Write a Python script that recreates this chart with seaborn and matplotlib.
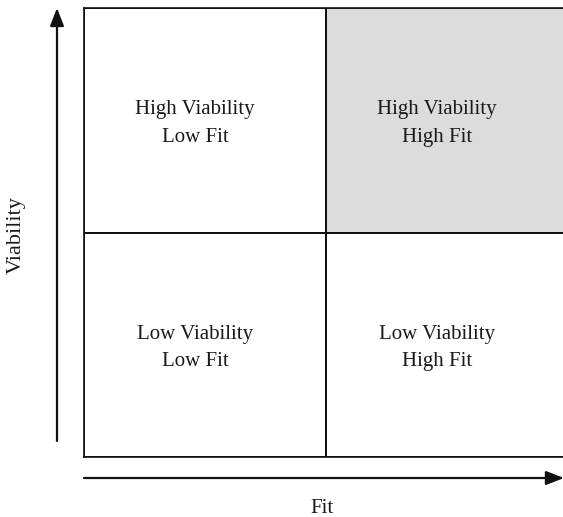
import numpy as np
import matplotlib
matplotlib.use("Agg")
import matplotlib.pyplot as plt
import seaborn as sns
from matplotlib.colors import ListedColormap

sns.set_theme(style="white")
plt.rcParams["font.family"] = ["Liberation Serif", "DejaVu Serif"]

viability_levels = ["High Viability", "Low Viability"]
fit_levels = ["Low Fit", "High Fit"]
highlight = [[0, 1],
             [0, 0]]
x_label = "Fit"
y_label = "Viability"

labels = np.array([[f"{v}\n{f}" for f in fit_levels] for v in viability_levels])

fig = plt.figure(figsize=(5.63, 5.17), dpi=100)
W, H = 563, 517
# grid runs a little past the right edge of the picture
ax = fig.add_axes([83.5 / W, 1 - 457 / H, (568 - 83.5) / W, (457 - 8) / H])

sns.heatmap(np.array(highlight), ax=ax, cmap=ListedColormap(["white", "#dcdcdc"]),
            cbar=False, annot=labels, fmt="", linewidths=1.2, linecolor="#111111",
            annot_kws={"fontsize": 15, "color": "#1a1a1a", "linespacing": 1.6})
# labels sit a bit left of and below the cell centres in the original
for t in ax.texts:
    x, y = t.get_position()
    t.set_position((x - 0.04, y + 0.015))

ax.set_xticks([])
ax.set_yticks([])
for s in ax.spines.values():
    s.set_visible(True)
    s.set_color("#111111")
    s.set_linewidth(1.2)

arrow = dict(arrowstyle="-|>,head_length=0.9,head_width=0.35", color="#111111", lw=1.6,
             shrinkA=0, shrinkB=0)
ax.annotate("", xy=(57 / W, 1 - 8 / H), xytext=(57 / W, 1 - 441 / H),
            xycoords="figure fraction", textcoords="figure fraction", arrowprops=arrow)
ax.annotate("", xy=(564 / W, 1 - 478 / H), xytext=(84 / W, 1 - 478 / H),
            xycoords="figure fraction", textcoords="figure fraction", arrowprops=arrow)

fig.text(16 / W, 1 - 235 / H, y_label, rotation=90, ha="center", va="center",
         fontsize=16, color="#1a1a1a")
fig.text(322 / W, 1 - 513 / H, x_label, ha="center", va="baseline",
         fontsize=15, color="#1a1a1a")

fig.savefig("out.png", dpi=100)
